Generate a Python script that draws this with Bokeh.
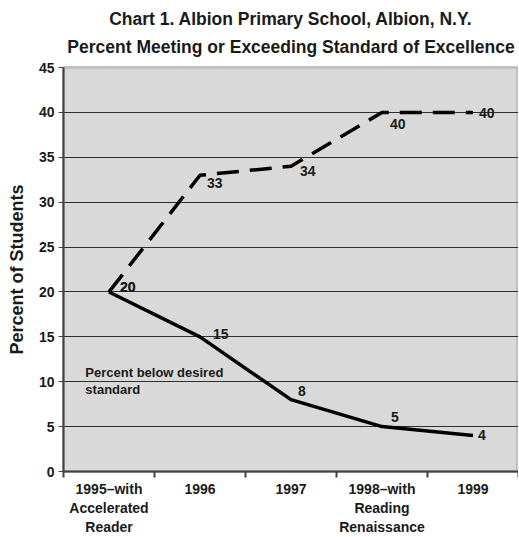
from bokeh.plotting import figure
from bokeh.models import FixedTicker, ColumnDataSource, Label, Title
from bokeh.core.properties import value
from bokeh.embed import file_html
from bokeh.resources import INLINE

# ---- data ----
categories = ["1995\u2013with\nAccelerated\nReader", "1996", "1997",
              "1998\u2013with\nReading\nRenaissance", "1999"]
meeting = [20, 33, 34, 40, 40]   # Percent meeting or exceeding standard (dashed)
below = [20, 15, 8, 5, 4]        # Percent below desired standard (solid)
y_ticks = [0, 5, 10, 15, 20, 25, 30, 35, 40, 45]
title_lines = ["Chart 1. Albion Primary School, Albion, N.Y.",
               "Percent Meeting or Exceeding Standard of Excellence"]
y_title = "Percent of Students"
note = "Percent below desired\nstandard"

# label offsets (screen px) for the data labels
meet_dx = [11, 7, 9, 8, 6]
meet_dy = [-5, 8, 5, 12, 1]
below_dx = [11, 13, 7, 9, 5]
below_dy = [-5, -3, -9, -10, -1]

FONT = "Liberation Sans"
xs = list(range(1, len(categories) + 1))

p = figure(width=518, height=537, output_backend="svg", toolbar_location=None,
           x_range=(0.5, len(categories) + 0.5), y_range=(0, 45),
           min_border_left=63, min_border_right=0, min_border_top=67,
           min_border_bottom=62)

p.title.visible = False
# second line first (closest to the plot), then first line above it
p.add_layout(Title(text=title_lines[1], align="center", text_font=FONT,
                   text_font_size="17.5px", text_font_style="bold",
                   text_color="#1a1a1a", standoff=17, vertical_align="top",
                   text_line_height=0.8), "above")
p.add_layout(Title(text=title_lines[0], align="center", text_font=FONT,
                   text_font_size="17.5px", text_font_style="bold",
                   text_color="#1a1a1a", standoff=0, vertical_align="bottom",
                   text_line_height=0.8), "above")

p.background_fill_color = "#d9d9d9"
p.border_fill_color = "white"
p.outline_line_color = "#c0c0c0"
p.outline_line_width = 3

# grid
p.xgrid.grid_line_color = None
p.ygrid.ticker = FixedTicker(ticks=y_ticks[1:-1])
p.ygrid.grid_line_color = "#303030"
p.ygrid.grid_line_width = 1

# y axis
p.yaxis.ticker = FixedTicker(ticks=y_ticks)
p.yaxis.axis_label = y_title
p.yaxis.axis_label_text_font = FONT
p.yaxis.axis_label_text_font_size = "18px"
p.yaxis.axis_label_text_font_style = "bold"
p.yaxis.axis_label_text_color = "#1a1a1a"
p.yaxis.axis_label_standoff = 9
p.yaxis.major_label_text_font = FONT
p.yaxis.major_label_text_font_size = "14px"
p.yaxis.major_label_text_font_style = "bold"
p.yaxis.major_label_text_color = "#1a1a1a"
p.yaxis.major_tick_out = 5
p.yaxis.major_tick_in = 0
p.yaxis.minor_tick_line_color = None
p.yaxis.axis_line_color = "#404040"
p.yaxis.axis_line_width = 2
p.yaxis.major_tick_line_color = "#404040"
p.yaxis.major_label_standoff = 4

# x axis
p.xaxis.ticker = FixedTicker(ticks=xs, minor_ticks=[x - 0.5 for x in xs] + [xs[-1] + 0.5])
p.xaxis.major_label_overrides = {x: c for x, c in zip(xs, categories)}
p.xaxis.major_label_text_font = FONT
p.xaxis.major_label_text_font_size = "14px"
p.xaxis.major_label_text_font_style = "bold"
p.xaxis.major_label_text_color = "#1a1a1a"
p.xaxis.major_label_text_line_height = 1.2
p.xaxis.major_tick_line_color = None
p.xaxis.major_tick_out = 6
p.xaxis.minor_tick_out = 6
p.xaxis.minor_tick_in = 0
p.xaxis.minor_tick_line_color = "#404040"
p.xaxis.minor_tick_line_width = 2
p.xaxis.axis_line_color = "#404040"
p.xaxis.axis_line_width = 2
p.xaxis.major_label_standoff = 3

# lines
src_m = ColumnDataSource(dict(x=xs, y=meeting, lab=[str(v) for v in meeting],
                              dx=meet_dx, dy=meet_dy))
src_b = ColumnDataSource(dict(x=xs, y=below, lab=[str(v) for v in below],
                              dx=below_dx, dy=below_dy))

p.line("x", "y", source=src_m, line_color="black", line_width=3.5,
       line_dash="22 11", line_join="round")
p.line("x", "y", source=src_b, line_color="black", line_width=3.5,
       line_join="round")

for src in (src_m, src_b):
    p.text("x", "y", text="lab", source=src, x_offset="dx", y_offset="dy",
           text_font=value(FONT), text_font_size="14px", text_font_style="bold",
           text_color="#1a1a1a", text_align="left", text_baseline="middle")

p.add_layout(Label(x=0.74, y=11.9, text=note, text_font=FONT,
                   text_font_size="13px", text_font_style="bold",
                   text_color="#1a1a1a", text_baseline="top",
                   text_line_height=1.15))

open("out.html", "w").write(file_html(p, INLINE))
